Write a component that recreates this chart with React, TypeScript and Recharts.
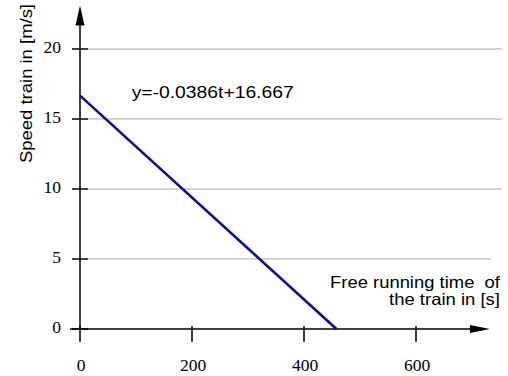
import React from 'react';
import { LineChart, Line, XAxis, YAxis, ReferenceLine, ReferenceDot } from 'recharts';

// data
const timeValues = [0, 458];
const speedValues = [16.667, 0];
const xTicks = [0, 200, 400, 600];
const yTicks = [0, 5, 10, 15, 20];
const gridLevels = [20, 15, 10, 5];
const gridEnds = [753, 753, 753, 734];
const formulaText = 'y=-0.0386t+16.667';
const yTitle = 'Speed train in [m/s]';
const xTitleLines = ['Free running time\u00a0 of', 'the train in [s]'];

const data = timeValues.map((t, i) => ({ t, v: speedValues[i] }));

const SERIF = "'Liberation Serif', 'Times New Roman', Times, serif";
const SANS = "'Liberation Sans', Arial, Helvetica, sans-serif";

const YTick = (props: any) => {
  const { x, y, payload } = props;
  return (
    <g>
      <line x1={x - 8} x2={x + 8} y1={y} y2={y} stroke="#000" strokeWidth={1.5} />
      <text x={x - 19} y={y + 4} textAnchor="end" style={{ fontFamily: SERIF, fontSize: 17.5 }} fill="#000">
        {payload.value}
      </text>
    </g>
  );
};

const XTick = (props: any) => {
  const { x, y, payload } = props;
  return (
    <g>
      <line x1={x} x2={x} y1={y - 3} y2={y + 13} stroke="#000" strokeWidth={1.5} />
      <text x={x + 1} y={y + 42} textAnchor="middle" style={{ fontFamily: SERIF, fontSize: 17.5 }} fill="#000">
        {payload.value}
      </text>
    </g>
  );
};

const UpArrow = (props: any) => {
  const { cx, cy } = props;
  return <polygon points={`${cx},${cy} ${cx - 4.5},${cy + 20} ${cx + 4.5},${cy + 20}`} fill="#000" />;
};

const RightArrow = (props: any) => {
  const { cx, cy } = props;
  return <polygon points={`${cx},${cy} ${cx - 20},${cy - 4} ${cx - 20},${cy + 4}`} fill="#000" />;
};

export default function App() {
  return (
    <div style={{ position: 'absolute', left: 0, top: 0, background: '#fff' }}>
      <LineChart width={508} height={376} data={data} margin={{ top: 0, right: 2.4, left: 0, bottom: 0 }}>
        <XAxis
          dataKey="t"
          type="number"
          domain={[0, 760]}
          ticks={xTicks}
          height={47}
          axisLine={false}
          tickLine={false}
          tickSize={0}
          tickMargin={0}
          tick={<XTick />}
          interval={0}
        />
        <YAxis
          type="number"
          domain={[0, 23.5]}
          ticks={yTicks}
          width={80}
          axisLine={false}
          tickLine={false}
          tickSize={0}
          tickMargin={0}
          tick={<YTick />}
          interval={0}
        />
        {gridLevels.map((g, i) => (
          <ReferenceLine
            key={g}
            segment={[{ x: 14.3, y: g }, { x: gridEnds[i], y: g }]}
            stroke="#c4c4c4"
            strokeWidth={1.3}
            ifOverflow="visible"
          />
        ))}
        <ReferenceLine segment={[{ x: -18, y: 0 }, { x: 720, y: 0 }]} stroke="#000" strokeWidth={1.5} ifOverflow="visible" />
        <ReferenceLine segment={[{ x: 0, y: 0 }, { x: 0, y: 22 }]} stroke="#000" strokeWidth={1.5} ifOverflow="visible" />
        <ReferenceDot x={0} y={23.1} r={0} shape={<UpArrow />} ifOverflow="visible" />
        <ReferenceDot x={732} y={0} r={0} shape={<RightArrow />} ifOverflow="visible" />
        <Line
          dataKey="v"
          type="linear"
          stroke="#0b0b99"
          strokeWidth={2.6}
          dot={false}
          activeDot={false}
          isAnimationActive={false}
        />
        <text
          x={131.7}
          y={98}
          style={{ fontFamily: SANS, fontSize: 16 }}
          textLength={162}
          lengthAdjust="spacingAndGlyphs"
          fill="#000"
        >
          {formulaText}
        </text>
        <text
          transform="translate(31.5,83.5) rotate(-90)"
          textAnchor="middle"
          style={{ fontFamily: SANS, fontSize: 16 }}
          textLength={159}
          lengthAdjust="spacingAndGlyphs"
          fill="#000"
        >
          {yTitle}
        </text>
        <text
          x={500}
          y={288}
          textAnchor="end"
          style={{ fontFamily: SANS, fontSize: 16.5 }}
          textLength={170}
          lengthAdjust="spacingAndGlyphs"
          fill="#000"
        >
          {xTitleLines[0]}
        </text>
        <text
          x={500}
          y={305}
          textAnchor="end"
          style={{ fontFamily: SANS, fontSize: 16.5 }}
          textLength={111}
          lengthAdjust="spacingAndGlyphs"
          fill="#000"
        >
          {xTitleLines[1]}
        </text>
      </LineChart>
    </div>
  );
}
